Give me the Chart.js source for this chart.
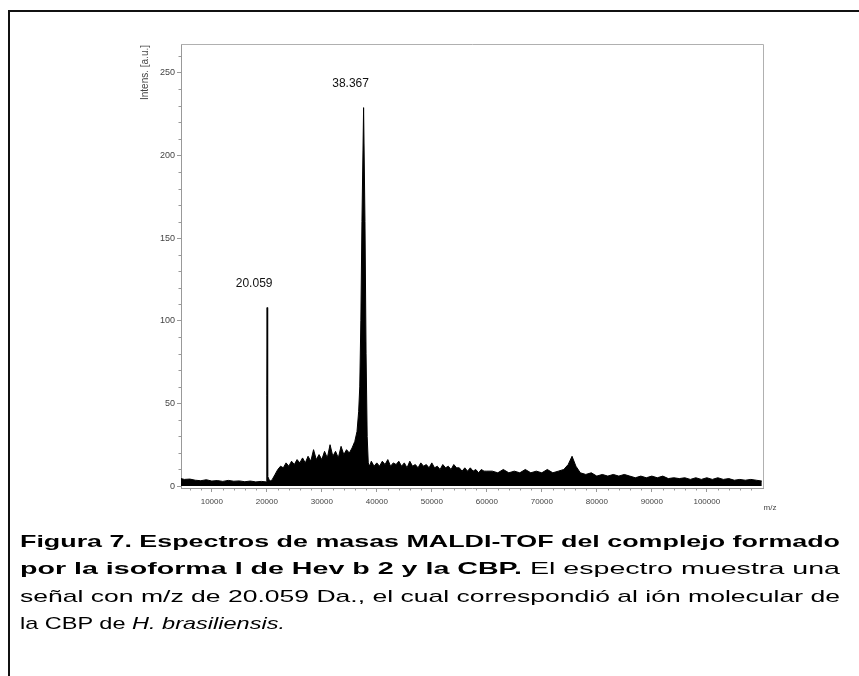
<!DOCTYPE html>
<html>
<head>
<meta charset="utf-8">
<script src="https://cdn.jsdelivr.net/npm/chart.js@4.4.1/dist/chart.umd.min.js"></script>
<style>
  html, body { margin: 0; padding: 0; background: #fff; width: 859px; height: 676px; overflow: hidden; }
  #frame { position: absolute; left: 8px; top: 10px; width: 900px; height: 700px; border: 2px solid #111; box-sizing: border-box; }
  #chart { position: absolute; left: 0; top: 0; }
  #caption { position: absolute; left: 20px; top: 528px; font-family: "Liberation Sans", Arial, sans-serif; font-size: 17px; color: #000; }
  .ln { position: absolute; left: 0; height: 27px; line-height: 27px; white-space: nowrap; transform-origin: 0 0; }
</style>
</head>
<body>
<div id="frame"></div>
<canvas id="chart" width="859" height="676"></canvas>
<div id="caption">
  <div class="ln" id="l1" style="top:0px"><b>Figura 7. Espectros de masas MALDI-TOF del complejo formado</b></div>
  <div class="ln" id="l2" style="top:27px"><b>por la isoforma I de Hev b 2 y la CBP.</b> El espectro muestra una</div>
  <div class="ln" id="l3" style="top:55px">señal con m/z de 20.059 Da., el cual correspondió al ión molecular de</div>
  <div class="ln" id="l4" style="top:82px">la CBP de <i>H. brasiliensis.</i></div>
</div>
<script>
// ---- data ----
const massValues = [
  4400, 5000, 6000, 7000, 8000, 9000, 10000, 11000, 12000, 13000, 14000, 15000, 16000, 17000, 18000, 19000, 19900,
  20000, 20059, 20110, 20200, 20400, 20700, 21000, 21500, 22000, 22500, 23000, 23500, 24000, 24500, 25000, 25500,
  26000, 26500, 27000, 27500, 28000, 28500, 29000, 29500, 30000, 30500, 31000, 31500, 32000, 32500, 33000, 33500,
  34000, 34500, 35000, 35500, 36000, 36400, 36700, 36900, 37100, 37300, 37600, 37850, 38050, 38250, 38450, 38700,
  39000, 39500, 40000, 40500, 41000, 41500, 42000, 42500, 43000, 43500, 44000, 44500, 45000, 45500, 46000, 46500,
  47000, 47500, 48000, 48500, 49000, 49500, 50000, 50500, 51000, 51500, 52000, 52500, 53000, 53500, 54000, 54500,
  55000, 55500, 56000, 56500, 57000, 57500, 58000, 58500, 59000, 59500, 60000, 61000, 62000, 63000, 64000, 65000,
  66000, 67000, 68000, 69000, 70000, 71000, 72000, 73000, 74000, 74800, 75500, 76200, 77000, 78000, 79000, 80000,
  81000, 82000, 83000, 84000, 85000, 86000, 87000, 88000, 89000, 90000, 91000, 92000, 93000, 94000, 95000, 96000,
  97000, 98000, 99000, 100000, 101000, 102000, 103000, 104000, 105000, 106000, 107000, 108000, 109000, 110000
];
const intensityValues = [
  4.5, 4, 4.2, 3.5, 3.2, 3.8, 3, 3.3, 2.8, 3.4, 2.9, 3.1, 2.6, 3, 2.5, 2.8, 2.5,
  55, 108, 50, 6, 4, 3, 4, 7, 10, 12, 11, 14, 12, 15, 13, 16,
  14, 17, 14, 18, 15, 22, 16, 19, 16, 21, 17, 25, 18, 21, 17, 24,
  19, 22, 20, 23, 27, 33, 45, 60, 100, 160, 229, 160, 80, 30, 14, 12,
  15, 12, 14, 12, 15, 13, 16, 12, 14, 13, 15, 12, 14, 11, 15, 12,
  13, 11, 14, 12, 13, 11, 14, 11, 12, 10, 13, 11, 12, 10, 13, 11,
  11, 9, 11, 9, 11, 9, 10, 8, 10, 9, 9, 9, 8, 10, 8, 9,
  8, 10, 8, 9, 8, 10, 8, 9, 10, 13, 18, 12, 8, 7, 8, 6,
  7, 6, 7, 6, 7, 6, 5, 6, 5, 6, 5, 6, 4.5, 5, 4.5, 5,
  4, 5, 4, 5, 4, 5, 4, 4.5, 3.5, 4, 3.5, 4, 3.5, 3
];
const xTickValues = [10000, 20000, 30000, 40000, 50000, 60000, 70000, 80000, 90000, 100000];
const yTickValues = [0, 50, 100, 150, 200, 250];
const peakPositions = [20059, 37600];
const peakHeights = [108, 229];
const peakLabels = ['20.059', '38.367'];
const yAxisTitle = 'Intens. [a.u.]';
const xAxisTitle = 'm/z';

const spectrum = massValues.map((m, i) => ({ x: m, y: intensityValues[i] }));

const decor = {
  id: 'decor',
  afterDraw(chart) {
    const ctx = chart.ctx;
    const a = chart.chartArea;
    const xs = chart.scales.x, ys = chart.scales.y;
    ctx.save();
    ctx.strokeStyle = '#b0b0b0';
    ctx.lineWidth = 1;
    ctx.beginPath();
    ctx.moveTo(a.left, a.top + 0.5); ctx.lineTo(a.right + 0.5, a.top + 0.5); ctx.lineTo(a.right + 0.5, a.bottom);
    ctx.stroke();
    ctx.strokeStyle = '#999';
    ctx.beginPath();
    for (let v = 10; v < 268; v += 10) {
      if (v % 50 === 0) continue;
      const py = Math.round(ys.getPixelForValue(v)) + 0.5;
      ctx.moveTo(a.left - 2.5, py); ctx.lineTo(a.left, py);
    }
    for (let v = 6000; v < 110200; v += 2000) {
      if (v % 10000 === 0) continue;
      const px = Math.round(xs.getPixelForValue(v)) + 0.5;
      ctx.moveTo(px, a.bottom); ctx.lineTo(px, a.bottom + 2.5);
    }
    ctx.stroke();
    ctx.fillStyle = '#111';
    ctx.font = '12px "Liberation Sans", Arial, sans-serif';
    ctx.textAlign = 'center';
    ctx.textBaseline = 'middle';
    peakLabels.forEach((t, i) => {
      const px = xs.getPixelForValue(peakPositions[i]);
      const py = ys.getPixelForValue(peakHeights[i]);
      ctx.fillText(t, px - 13, py - 24);
    });
    ctx.fillStyle = '#444';
    ctx.font = '8px "Liberation Sans", Arial, sans-serif';
    ctx.textAlign = 'center';
    ctx.textBaseline = 'top';
    ctx.fillText(xAxisTitle, a.right + 7, a.bottom + 16);
    ctx.translate(a.left - 36, a.top + 1);
    ctx.rotate(-Math.PI / 2);
    ctx.textAlign = 'right';
    ctx.textBaseline = 'middle';
    ctx.font = '10px "Liberation Sans", Arial, sans-serif';
    ctx.fillText(yAxisTitle, 0, 0);
    ctx.restore();
  }
};

new Chart(document.getElementById('chart'), {
  type: 'line',
  data: {
    datasets: [{
      data: spectrum,
      borderColor: '#000',
      backgroundColor: '#000',
      borderWidth: 1,
      pointRadius: 0,
      fill: 'origin',
      tension: 0
    }]
  },
  options: {
    responsive: false,
    animation: false,
    devicePixelRatio: 1,
    layout: { padding: { left: 0, top: 44, right: 96, bottom: 158 } },
    plugins: { legend: { display: false }, tooltip: { enabled: false } },
    scales: {
      x: {
        type: 'linear', min: 4400, max: 110218,
        afterBuildTicks: s => { s.ticks = xTickValues.map(v => ({ value: v })); },
        afterFit: s => { s.height = 30; },
        grid: { drawOnChartArea: false, tickLength: 4, color: '#999' },
        border: { color: '#999', width: 1 },
        ticks: { padding: 5, maxRotation: 0, autoSkip: false, color: '#444', font: { size: 8, family: '"Liberation Sans", Arial' }, callback: v => String(v) }
      },
      y: {
        type: 'linear', min: -1.2, max: 267.5,
        afterBuildTicks: s => { s.ticks = yTickValues.map(v => ({ value: v })); },
        afterFit: s => { s.width = 181; },
        grid: { drawOnChartArea: false, tickLength: 4, color: '#999' },
        border: { color: '#999', width: 1 },
        ticks: { padding: 2, autoSkip: false, color: '#444', font: { size: 9, family: '"Liberation Sans", Arial' }, callback: v => String(v) }
      }
    }
  },
  plugins: [decor]
});

// caption: each full line stretched to the box width; last line to its own measured width
(function () {
  const target = 820;
  ['l1', 'l2', 'l3'].forEach(id => {
    const el = document.getElementById(id);
    const w = el.getBoundingClientRect().width;
    el.style.transform = 'scaleX(' + (target / w) + ')';
  });
  const l4 = document.getElementById('l4');
  l4.style.transform = 'scaleX(' + (265 / l4.getBoundingClientRect().width) + ')';
})();
</script>
</body>
</html>
